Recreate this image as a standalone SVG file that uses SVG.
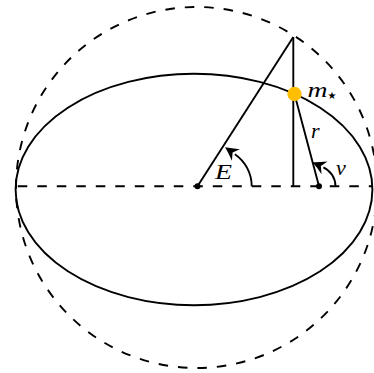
<svg xmlns="http://www.w3.org/2000/svg" width="374" height="373" viewBox="0 0 374 373">
<style>
.s{fill:none;stroke:#000;stroke-width:1.9}
.d{fill:none;stroke:#000;stroke-width:1.9;stroke-dasharray:9.5 10}
.m{font-family:"Liberation Serif","DejaVu Serif",serif;font-style:italic;font-size:22px;fill:#000}
.dot{fill:#000}
</style>
<defs>
<marker id="ah" markerUnits="userSpaceOnUse" markerWidth="18" markerHeight="18" viewBox="-3 -9 18 18" refX="0" refY="0" orient="auto">
<path d="M12,0 Q6,-2.6 -1.2,-7 L2.8,0 L-1.2,7 Q6,2.6 12,0 Z" fill="#000"/>
</marker>
</defs>
<rect width="374" height="373" fill="#fff"/>
<g id="aux-circle"><circle class="d" cx="196.5" cy="187.5" r="180.5"/></g>
<g id="orbit"><ellipse class="s" cx="194" cy="189.5" rx="178.4" ry="115.7"/></g>
<g id="connectors">
<line class="d" x1="17.8" y1="186.3" x2="372" y2="186.3"/>
<line class="s" x1="197.5" y1="186.3" x2="293.3" y2="37"/>
<line class="s" x1="293.3" y1="37" x2="293.3" y2="186.3"/>
<line class="s" x1="294.5" y1="94" x2="319" y2="186.3"/>
<path class="s" d="M251.7 186.3 A39 39 0 0 0 234.9 154.2" marker-end="url(#ah)"/>
<path class="s" d="M335.5 186.3 A21 21 0 0 0 323.4 167.3" marker-end="url(#ah)"/>
</g>
<g id="center"><circle class="dot" cx="197.5" cy="186.3" r="3"/></g>
<g id="focus"><circle class="dot" cx="319" cy="186.3" r="3"/></g>
<g id="star"><circle cx="294.5" cy="94" r="7.2" fill="#FFBF00"/></g>
<g id="labels">
<text class="m" x="307.5" y="97" font-size="23" textLength="20" lengthAdjust="spacingAndGlyphs">m</text>
<text x="327.5" y="99" font-family="DejaVu Sans,sans-serif" font-size="10" fill="#000">★</text>
<text class="m" x="215" y="178.5" font-size="22" textLength="17" lengthAdjust="spacingAndGlyphs">E</text>
<text class="m" x="311" y="138">r</text>
<text class="m" x="336" y="175" font-size="24">ν</text>
</g>
</svg>
